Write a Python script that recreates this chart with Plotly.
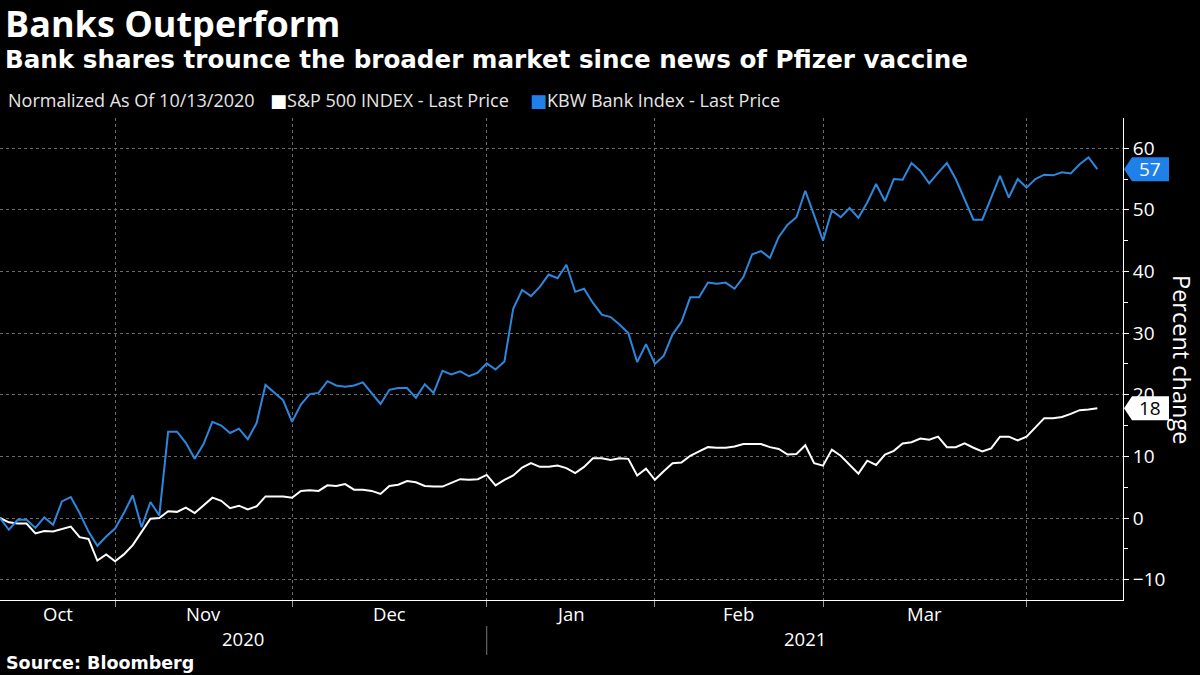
import pandas as pd
import plotly.graph_objects as go

# ---------------- data ----------------
holidays = ["2020-11-26", "2020-12-25", "2021-01-01", "2021-01-18", "2021-02-15", "2021-04-02"]
dates = [d for d in pd.bdate_range("2020-10-13", "2021-04-13") if d.strftime("%Y-%m-%d") not in holidays]

spx = [0, -0.7, -0.9, -0.9, -2.5, -2.1, -2.2, -1.8, -1.4, -3.1,
       -3.4, -6.9, -5.9, -7.0, -5.9, -4.4, -2.2, -0.1, 0.0, 1.1,
       1.0, 1.7, 0.8, 2.0, 3.3, 2.8, 1.6, 2.0, 1.4, 1.9,
       3.5, 3.5, 3.5, 3.3, 4.4, 4.5, 4.4, 5.3, 5.2, 5.5,
       4.6, 4.6, 4.4, 3.9, 5.2, 5.4, 6.0, 5.8, 5.2, 5.1,
       5.1, 5.7, 6.3, 6.2, 6.3, 7.0, 5.3, 6.2, 6.9, 8.2,
       8.9, 8.3, 8.3, 8.5, 8.1, 7.3, 8.3, 9.7, 9.7, 9.4,
       9.7, 9.6, 6.9, 8.0, 6.2, 7.6, 8.9, 9.0, 10.1, 10.8,
       11.5, 11.4, 11.4, 11.6, 12.0, 12.0, 12.0, 11.5, 11.2, 10.3,
       10.4, 11.8, 8.9, 8.5, 11.1, 10.1, 8.6, 7.2, 9.3, 8.6,
       10.3, 10.9, 12.1, 12.3, 12.9, 12.7, 13.2, 11.5, 11.5, 12.1,
       11.4, 10.8, 11.3, 13.2, 13.2, 12.6, 13.2, 14.7, 16.2, 16.2,
       16.4, 16.9, 17.5, 17.6, 17.8]

kbw = [0, -1.9, -0.3, -0.3, -1.6, 0.1, -1.1, 2.7, 3.4, 0.8,
       -2.2, -4.5, -3.0, -1.7, 0.8, 3.7, -1.5, 2.6, 0.4, 14.0,
       14.0, 12.2, 9.6, 12.0, 15.6, 15.0, 13.8, 14.5, 12.8, 15.4,
       21.6, 20.3, 19.1, 15.6, 18.4, 20.1, 20.3, 22.2, 21.5, 21.3,
       21.5, 22.0, 20.2, 18.5, 20.8, 21.1, 21.1, 19.5, 21.7, 20.3,
       23.9, 23.3, 23.8, 23.0, 23.6, 25.1, 24.1, 25.4, 34.0, 37.0,
       36.0, 37.5, 39.5, 38.9, 41.1, 36.7, 37.2, 34.9, 33.0, 32.6,
       31.4, 30.0, 25.3, 28.2, 25.0, 26.3, 29.8, 31.8, 35.8, 35.8,
       38.2, 38.0, 38.2, 37.2, 39.1, 42.8, 43.3, 42.2, 45.6, 47.6,
       48.8, 53.1, 49.1, 45.0, 49.9, 48.8, 50.3, 48.7, 51.2, 54.2,
       51.4, 55.0, 54.9, 57.6, 56.3, 54.3, 56.0, 57.6, 55.0, 51.8,
       48.4, 48.4, 52.1, 55.5, 52.0, 55.0, 53.6, 55.0, 55.7, 55.6,
       56.1, 55.9, 57.4, 58.5, 56.6]

month_labels = ["Oct", "Nov", "Dec", "Jan", "Feb", "Mar"]
year_labels = ["2020", "2021"]
y_ticks = [-10, 0, 10, 20, 30, 40, 50, 60]

# ---------------- styling ----------------
BLUE = "#2e87de"
BOX_BLUE = "#1f80ea"
FONT = "Open Sans, Lato, DejaVu Sans, sans-serif"
WIDE_BOLD = "DejaVu Sans, Open Sans, sans-serif"
W, H = 1200, 675
ML, MR, MT, MB = 0, 77, 118, 75
PW, PH = W - ML - MR, H - MT - MB
X_RANGE = [0, 126.9]
Y_RANGE = [-13.3, 64.9]

idx = list(range(len(dates)))
labels_txt = [d.strftime("%m/%d/%Y") for d in dates]

# month boundaries: last trading day of each month
month_keys = [d.strftime("%Y-%m") for d in dates]
month_ends = [i for i in range(len(dates) - 1) if month_keys[i] != month_keys[i + 1]]
month_starts = [0] + month_ends
month_mids = [(a + b) / 2 for a, b in zip(month_starts, month_ends)]


def paper_x(px):
    return (px - ML) / PW


def paper_y(py):
    return (H - MB - py) / PH


fig = go.Figure()
fig.add_trace(go.Scatter(x=idx, y=spx, mode="lines", name="S&P 500 INDEX - Last Price",
                         line=dict(color="white", width=2), text=labels_txt,
                         hovertemplate="%{text}: %{y:.1f}<extra></extra>"))
fig.add_trace(go.Scatter(x=idx, y=kbw, mode="lines", name="KBW Bank Index - Last Price",
                         line=dict(color=BLUE, width=2), text=labels_txt,
                         hovertemplate="%{text}: %{y:.1f}<extra></extra>"))

ann = []
ann.append(dict(text="<b>Banks Outperform</b>", x=paper_x(3), y=paper_y(23), xref="paper", yref="paper",
                xanchor="left", yanchor="middle", showarrow=False,
                font=dict(family=FONT, size=36, color="white")))
ann.append(dict(text="<b>Bank shares trounce the broader market since news of Pfizer vaccine</b>",
                x=paper_x(3), y=paper_y(60), xref="paper", yref="paper",
                xanchor="left", yanchor="middle", showarrow=False,
                font=dict(family=WIDE_BOLD, size=24.6, color="white")))
ann.append(dict(text="Normalized As Of 10/13/2020", x=paper_x(6), y=paper_y(100), xref="paper", yref="paper",
                xanchor="left", yanchor="middle", showarrow=False,
                font=dict(family=FONT, size=18, color="#e6e6e6")))
ann.append(dict(text="<span style='color:white'>■</span>S&P 500 INDEX - Last Price", x=paper_x(268), y=paper_y(100),
                xref="paper", yref="paper", xanchor="left", yanchor="middle", showarrow=False,
                font=dict(family=FONT, size=18, color="#e6e6e6")))
ann.append(dict(text=f"<span style='color:{BOX_BLUE}'>■</span>KBW Bank Index - Last Price", x=paper_x(528), y=paper_y(100),
                xref="paper", yref="paper", xanchor="left", yanchor="middle", showarrow=False,
                font=dict(family=FONT, size=18, color="#e6e6e6")))

for lab, m in zip(month_labels, month_mids):
    ann.append(dict(text=lab, x=m, y=paper_y(613), xref="x", yref="paper", xanchor="center",
                    yanchor="middle", showarrow=False, font=dict(family=FONT, size=18.5, color="white")))

year_split = month_ends[2]  # last trading day of 2020
ann.append(dict(text=year_labels[0], x=year_split / 2, y=paper_y(638), xref="x", yref="paper",
                xanchor="center", yanchor="middle", showarrow=False, font=dict(family=FONT, size=18.5, color="white")))
ann.append(dict(text=year_labels[1], x=(year_split + X_RANGE[1]) / 2, y=paper_y(638), xref="x", yref="paper",
                xanchor="center", yanchor="middle", showarrow=False, font=dict(family=FONT, size=18.5, color="white")))
ann.append(dict(text="<b>Source: Bloomberg</b>", x=paper_x(4), y=paper_y(663), xref="paper", yref="paper",
                xanchor="left", yanchor="middle", showarrow=False, font=dict(family=WIDE_BOLD, size=17.5, color="white")))
ann.append(dict(text="Percent change", x=paper_x(1182), y=paper_y(359), xref="paper", yref="paper",
                xanchor="center", yanchor="middle", textangle=90, showarrow=False,
                font=dict(family=FONT, size=23.5, color="white")))

shapes = []
shapes.append(dict(type="line", xref="x", yref="paper", x0=year_split, x1=year_split,
                   y0=paper_y(626), y1=paper_y(655), line=dict(color="#777", width=1)))

# last-value tags
for series, fill, tcol in [(kbw, BOX_BLUE, "white"), (spx, "white", "black")]:
    last = series[-1]
    shapes.append(dict(type="path", xref="paper", yref="y", xsizemode="pixel", ysizemode="pixel",
                       xanchor=1, yanchor=last,
                       path="M 1 0 L 9 12 L 46 12 L 46 -12 L 9 -12 Z",
                       fillcolor=fill, line=dict(width=0)))
    ann.append(dict(text=f"{round(last)}", x=1, xshift=27, y=last, xref="paper", yref="y",
                    xanchor="center", yanchor="middle", showarrow=False,
                    font=dict(family=FONT, size=19, color=tcol)))

fig.update_layout(
    width=W, height=H,
    margin=dict(l=ML, r=MR, t=MT, b=MB, pad=0),
    paper_bgcolor="black", plot_bgcolor="black",
    showlegend=False,
    annotations=ann, shapes=shapes,
    font=dict(family=FONT, color="white"),
    xaxis=dict(range=X_RANGE, tickvals=month_ends, showticklabels=False,
               showgrid=True, gridcolor="#6a6a6a", griddash="dot", gridwidth=1,
               ticks="outside", ticklen=6, tickcolor="#999",
               showline=True, linecolor="white", linewidth=1, zeroline=False, fixedrange=True),
    yaxis=dict(range=Y_RANGE, side="right", tickvals=y_ticks,
               showgrid=True, gridcolor="#6a6a6a", griddash="dot", gridwidth=1,
               ticks="outside", ticklen=5, tickcolor="white",
               minor=dict(tickvals=[-5, 5, 15, 25, 35, 45, 55], ticks="outside", ticklen=4,
                          tickcolor="white", showgrid=False),
               tickfont=dict(family=FONT, size=19, color="white"),
               showline=True, linecolor="white", linewidth=1, zeroline=False, fixedrange=True),
)

fig.write_html("out.html", config={"displayModeBar": False},
               post_script="document.body.style.margin='0px';document.body.style.background='black';")
